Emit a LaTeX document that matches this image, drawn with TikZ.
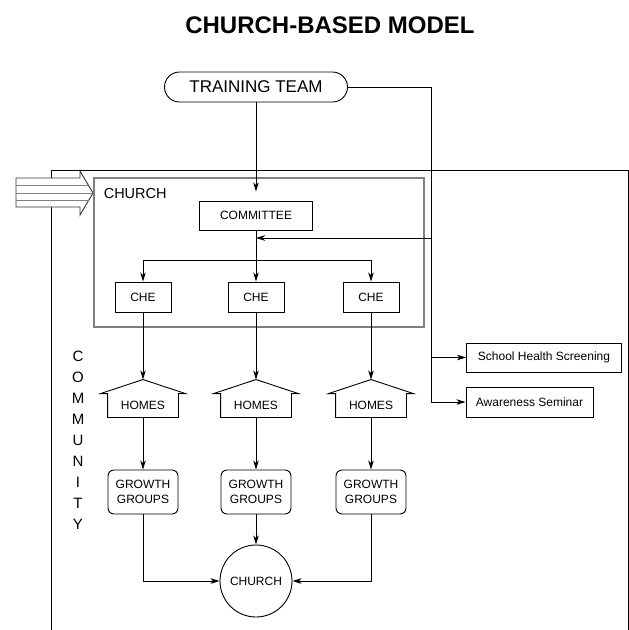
\documentclass[tikz,border=0pt]{standalone}
\usepackage{fontspec}
\setmainfont{Liberation Sans}
\usetikzlibrary{arrows.meta}

\tikzset{
  box/.style={draw, inner sep=0pt, font=\fontsize{12}{15}\selectfont},
  arr/.style={-{Stealth[length=9pt,width=5.5pt,inset=2.5pt]}},
  groupbox/.style={box, rounded corners=6pt, align=center, minimum width=70pt, minimum height=44pt},
  homebox/.style={inner sep=0pt, minimum width=70pt, minimum height=23pt, font=\fontsize{12}{15}\selectfont},
}

\begin{document}
\begin{tikzpicture}[x=1pt,y=-1pt,line width=0.9pt]
\useasboundingbox (0,0) rectangle (629,630);

\coordinate (CL) at (51,630);
\coordinate (CTL) at (51,170);
\coordinate (CTR) at (628,170);
\coordinate (CR) at (628,630);
\coordinate (T1) at (431,87);
\coordinate (T2) at (431,238);
\coordinate (T3) at (431,357.5);
\coordinate (T4) at (431,402);
\coordinate (S) at (256,260);

\draw (CL)--(CTL)--(CTR)--(CR);

\draw [draw=black!80, fill=white] (16,178)--(80,178)--(80,171)--(93,193)--(80,215)--(80,207)--(16,207)--cycle;
\draw [gray] (16,185)--(88,185) (16,193)--(93,193) (16,200)--(88.5,200);

\node [font=\bfseries\fontsize{24}{28}\selectfont] (title) at (330,25) {CHURCH-BASED MODEL};
\node [draw, rounded corners=15pt, minimum width=183pt, minimum height=30pt, inner sep=0pt, font=\fontsize{17}{20}\selectfont] (team) at (256,87) {TRAINING TEAM};

\node [draw=gray, line width=1.3pt, minimum width=330pt, minimum height=149pt] (church) at (259,252.5) {};
\node [anchor=west, font=\fontsize{14.5}{17}\selectfont] (churchlbl) at (100,194) {CHURCH};
\node [box, minimum width=113pt, minimum height=29pt] (committee) at (256,215.5) {COMMITTEE};

\node [box, minimum width=56pt, minimum height=30pt] (che1) at (143,297) {CHE};
\node [box, minimum width=56pt, minimum height=30pt] (che2) at (256,297) {CHE};
\node [box, minimum width=56pt, minimum height=30pt] (che3) at (371,297) {CHE};

\node [homebox] (home1) at (143,405.5) {HOMES};
\node [homebox] (home2) at (256,405.5) {HOMES};
\node [homebox] (home3) at (371,405.5) {HOMES};
\foreach \h in {home1,home2,home3}
  \draw (\h.south west)--(\h.north west)--([xshift=-7pt]\h.north west)--([yshift=14pt]\h.north)--([xshift=7pt]\h.north east)--(\h.north east)--(\h.south east)--cycle;

\node [groupbox] (grow1) at (143,492) {GROWTH\\GROUPS};
\node [groupbox] (grow2) at (256,492) {GROWTH\\GROUPS};
\node [groupbox] (grow3) at (371,492) {GROWTH\\GROUPS};

\node [box, circle, minimum size=72pt] (meet) at (256,581) {CHURCH};

\node [box, minimum width=155pt, minimum height=29pt] (school) at (544,357.5) {School Health Screening};
\node [box, minimum width=127pt, minimum height=30pt] (aware) at (529.5,402) {Awareness Seminar};

\node [align=center, font=\fontsize{15}{21}\selectfont] (comm) at (78,440) {C\\O\\M\\M\\U\\N\\I\\T\\Y};

\draw [arr, shorten >=9pt] (team.south)--(committee.north);
\draw (team.east)--(T1)--(T4);
\draw [arr] (T2)--(committee.south |- T2);
\draw [arr] (T3)--(school.west);
\draw [arr] (T4)--(aware.west);

\draw (committee.south)--(S);
\draw [arr] (S)-|(che1.north);
\draw [arr] (S)--(che2.north);
\draw [arr] (S)-|(che3.north);

\draw [arr] (che1.south)--([yshift=14pt]home1.north);
\draw [arr] (che2.south)--([yshift=14pt]home2.north);
\draw [arr] (che3.south)--([yshift=14pt]home3.north);

\draw [arr] (home1.south)--(grow1.north);
\draw [arr] (home2.south)--(grow2.north);
\draw [arr] (home3.south)--(grow3.north);

\draw [arr] (grow1.south)|-(meet.west);
\draw [arr] (grow2.south)--(meet.north);
\draw [arr] (grow3.south)|-(meet.east);
\end{tikzpicture}
\end{document}
